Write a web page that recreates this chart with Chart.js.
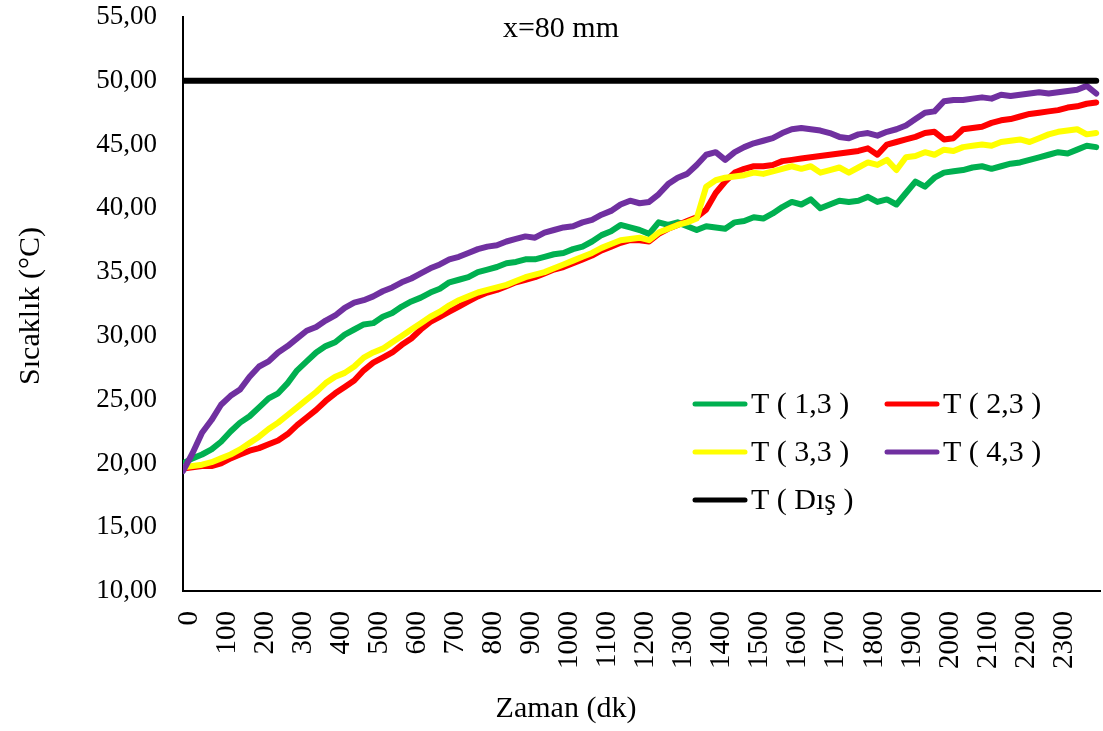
<!DOCTYPE html>
<html>
<head>
<meta charset="utf-8">
<script src="https://cdn.jsdelivr.net/npm/chart.js@4/dist/chart.umd.min.js"></script>
<style>
  body { margin: 0; background: #fff; }
  #kutu { width: 1103px; height: 731px; }
</style>
</head>
<body>
<div id="kutu"><canvas id="grafik" width="1103" height="731"></canvas></div>
<script>
// zaman (dk), 25 dk aralıkla
const zaman = [
  0, 25, 50, 75, 100, 125, 150, 175, 200, 225, 250, 275, 300, 325, 350, 375,
  400, 425, 450, 475, 500, 525, 550, 575, 600, 625, 650, 675, 700, 725, 750, 775,
  800, 825, 850, 875, 900, 925, 950, 975, 1000, 1025, 1050, 1075, 1100, 1125, 1150, 1175,
  1200, 1225, 1250, 1275, 1300, 1325, 1350, 1375, 1400, 1425, 1450, 1475, 1500, 1525, 1550, 1575,
  1600, 1625, 1650, 1675, 1700, 1725, 1750, 1775, 1800, 1825, 1850, 1875, 1900, 1925, 1950, 1975,
  2000, 2025, 2050, 2075, 2100, 2125, 2150, 2175, 2200, 2225, 2250, 2275, 2300, 2325, 2350, 2375,
  2400
];

const t13 = [
  20.0, 20.4, 20.7, 21.1, 21.7, 22.5, 23.2, 23.7, 24.4, 25.1, 25.5, 26.3, 27.3, 28.0, 28.7, 29.2,
  29.5, 30.1, 30.5, 30.9, 31.0, 31.5, 31.8, 32.3, 32.7, 33.0, 33.4, 33.7, 34.2, 34.4, 34.6, 35.0,
  35.2, 35.4, 35.7, 35.8, 36.0, 36.0, 36.2, 36.4, 36.5, 36.8, 37.0, 37.4, 37.9, 38.2, 38.7, 38.5,
  38.3, 38.0, 38.9, 38.7, 38.9, 38.6, 38.3, 38.6, 38.5, 38.4, 38.9, 39.0, 39.3, 39.2, 39.6, 40.1,
  40.5, 40.3, 40.7, 40.0, 40.3, 40.6, 40.5, 40.6, 40.9, 40.5, 40.7, 40.3, 41.2, 42.1, 41.7, 42.4,
  42.8, 42.9, 43.0, 43.2, 43.3, 43.1, 43.3, 43.5, 43.6, 43.8, 44.0, 44.2, 44.4, 44.3, 44.6, 44.9,
  44.8
];

const t23 = [
  19.6, 19.7, 19.8, 19.8, 20.0, 20.4, 20.7, 21.0, 21.2, 21.5, 21.8, 22.3, 23.0, 23.6, 24.2, 24.9,
  25.5, 26.0, 26.5, 27.3, 27.9, 28.3, 28.7, 29.3, 29.8, 30.5, 31.1, 31.5, 31.9, 32.3, 32.7, 33.1,
  33.4, 33.6, 33.9, 34.2, 34.4, 34.6, 34.9, 35.2, 35.4, 35.7, 36.0, 36.3, 36.7, 37.0, 37.3, 37.5,
  37.5, 37.4, 38.0, 38.4, 38.7, 39.0, 39.3, 39.9, 41.2, 42.1, 42.8, 43.1, 43.3, 43.3, 43.4, 43.7,
  43.8, 43.9, 44.0, 44.1, 44.2, 44.3, 44.4, 44.5, 44.7, 44.2, 45.0, 45.2, 45.4, 45.6, 45.9, 46.0,
  45.4, 45.5, 46.2, 46.3, 46.4, 46.7, 46.9, 47.0, 47.2, 47.4, 47.5, 47.6, 47.7, 47.9, 48.0, 48.2,
  48.3
];

const t33 = [
  19.7, 19.8, 19.9, 20.1, 20.4, 20.7, 21.1, 21.6, 22.1, 22.7, 23.2, 23.8, 24.4, 25.0, 25.6, 26.3,
  26.8, 27.1, 27.6, 28.3, 28.7, 29.0, 29.5, 30.0, 30.5, 31.0, 31.5, 31.9, 32.4, 32.8, 33.1, 33.4,
  33.6, 33.8, 34.0, 34.3, 34.6, 34.8, 35.0, 35.3, 35.6, 35.9, 36.2, 36.5, 36.9, 37.2, 37.5, 37.6,
  37.7, 37.5, 38.1, 38.4, 38.7, 38.9, 39.2, 41.7, 42.2, 42.4, 42.5, 42.6, 42.8, 42.7, 42.9, 43.1,
  43.3, 43.1, 43.3, 42.8, 43.0, 43.2, 42.8, 43.2, 43.6, 43.4, 43.8, 43.0, 44.0, 44.1, 44.4, 44.2,
  44.6, 44.5, 44.8, 44.9, 45.0, 44.9, 45.2, 45.3, 45.4, 45.2, 45.5, 45.8, 46.0, 46.1, 46.2, 45.8,
  45.9
];

const t43 = [
  19.4, 20.8, 22.4, 23.4, 24.6, 25.3, 25.8, 26.8, 27.6, 28.0, 28.7, 29.2, 29.8, 30.4, 30.7, 31.2,
  31.6, 32.2, 32.6, 32.8, 33.1, 33.5, 33.8, 34.2, 34.5, 34.9, 35.3, 35.6, 36.0, 36.2, 36.5, 36.8,
  37.0, 37.1, 37.4, 37.6, 37.8, 37.7, 38.1, 38.3, 38.5, 38.6, 38.9, 39.1, 39.5, 39.8, 40.3, 40.6,
  40.4, 40.5, 41.1, 41.9, 42.4, 42.7, 43.4, 44.2, 44.4, 43.8, 44.4, 44.8, 45.1, 45.3, 45.5, 45.9,
  46.2, 46.3, 46.2, 46.1, 45.9, 45.6, 45.5, 45.8, 45.9, 45.7, 46.0, 46.2, 46.5, 47.0, 47.5, 47.6,
  48.4, 48.5, 48.5, 48.6, 48.7, 48.6, 48.9, 48.8, 48.9, 49.0, 49.1, 49.0, 49.1, 49.2, 49.3, 49.6,
  49.0
];

// dış ortam sıcaklığı: sabit çizgi
const disZaman = [0, 2400];
const disSicaklik = [50, 50];

const etiketler = ['T ( 1,3 )', 'T ( 2,3 )', 'T ( 3,3 )', 'T ( 4,3 )', 'T ( Dış )'];
const renkler = ['#00B050', '#FF0000', '#FFFF00', '#7030A0', '#000000'];
const xTikler = [0, 100, 200, 300, 400, 500, 600, 700, 800, 900, 1000, 1100,
  1200, 1300, 1400, 1500, 1600, 1700, 1800, 1900, 2000, 2100, 2200, 2300];
const yTikler = [10, 15, 20, 25, 30, 35, 40, 45, 50, 55];

const FONT = 'Liberation Serif, Times New Roman, serif';

function seri(xs, ys) {
  return xs.map((x, i) => ({ x: x, y: ys[i] }));
}

// eksen başlıkları ve üst yazı
const yazilar = {
  id: 'yazilar',
  afterDraw(chart) {
    const c = chart.ctx;
    c.save();
    c.fillStyle = '#000';
    c.textAlign = 'center';
    c.textBaseline = 'middle';
    c.font = '30px ' + FONT;
    c.fillText('x=80 mm', 561, 29);
    c.fillText('Zaman (dk)', 566, 709);
    c.translate(31, 306);
    c.rotate(-Math.PI / 2);
    c.fillText('Sıcaklık (°C)', 0, 0);
    c.restore();
  }
};

// grafik içindeki açıklama kutusu
const aciklama = {
  id: 'aciklama',
  afterDraw(chart) {
    const c = chart.ctx;
    const yer = [[693, 404], [885, 404], [693, 452], [885, 452], [693, 500]];
    c.save();
    c.font = '30px ' + FONT;
    c.textBaseline = 'middle';
    c.textAlign = 'left';
    chart.data.datasets.forEach((ds, i) => {
      const [x, y] = yer[i];
      c.strokeStyle = ds.borderColor;
      c.lineWidth = 5;
      c.lineCap = 'round';
      c.beginPath();
      c.moveTo(x + 2, y);
      c.lineTo(x + 52, y);
      c.stroke();
      c.fillStyle = '#000';
      c.fillText(ds.label, x + 58, y + 1);
    });
    c.restore();
  }
};

const veriler = [seri(zaman, t13), seri(zaman, t23), seri(zaman, t33), seri(zaman, t43), seri(disZaman, disSicaklik)];

new Chart(document.getElementById('grafik'), {
  type: 'line',
  data: {
    datasets: veriler.map((d, i) => ({
      label: etiketler[i],
      data: d,
      borderColor: renkler[i],
      backgroundColor: renkler[i],
      borderWidth: 6,
      borderCapStyle: 'round',
      borderJoinStyle: 'round',
      pointRadius: 0,
      tension: 0,
      order: 5 - i
    }))
  },
  options: {
    responsive: false,
    animation: false,
    layout: { padding: { top: 17, right: 3, left: 0, bottom: 0 } },
    plugins: { legend: { display: false }, tooltip: { enabled: false } },
    scales: {
      x: {
        type: 'linear',
        min: 0,
        max: 2410,
        grid: { display: false, drawTicks: false },
        border: { display: true, color: '#000', width: 2 },
        ticks: {
          autoSkip: false,
          minRotation: 90,
          maxRotation: 90,
          padding: 20,
          labelOffset: 6,
          color: '#000',
          font: { family: FONT, size: 29 },
          callback: v => String(v)
        },
        afterBuildTicks: s => { s.ticks = xTikler.map(v => ({ value: v })); },
        afterFit: s => {
          s.height = 140;
          s.paddingLeft = 0; s.paddingRight = 0; s.paddingTop = 0; s.paddingBottom = 0;
        }
      },
      y: {
        min: 10,
        max: 55,
        grid: { display: false, drawTicks: false },
        border: { display: true, color: '#000', width: 2 },
        ticks: {
          padding: 26,
          color: '#000',
          font: { family: FONT, size: 27 },
          callback: v => v.toFixed(2).replace('.', ',')
        },
        afterBuildTicks: s => { s.ticks = yTikler.map(v => ({ value: v })); },
        afterFit: s => {
          s.width = 183;
          s.paddingLeft = 0; s.paddingRight = 0; s.paddingTop = 0; s.paddingBottom = 0;
        }
      }
    }
  },
  plugins: [yazilar, aciklama]
});
</script>
</body>
</html>
